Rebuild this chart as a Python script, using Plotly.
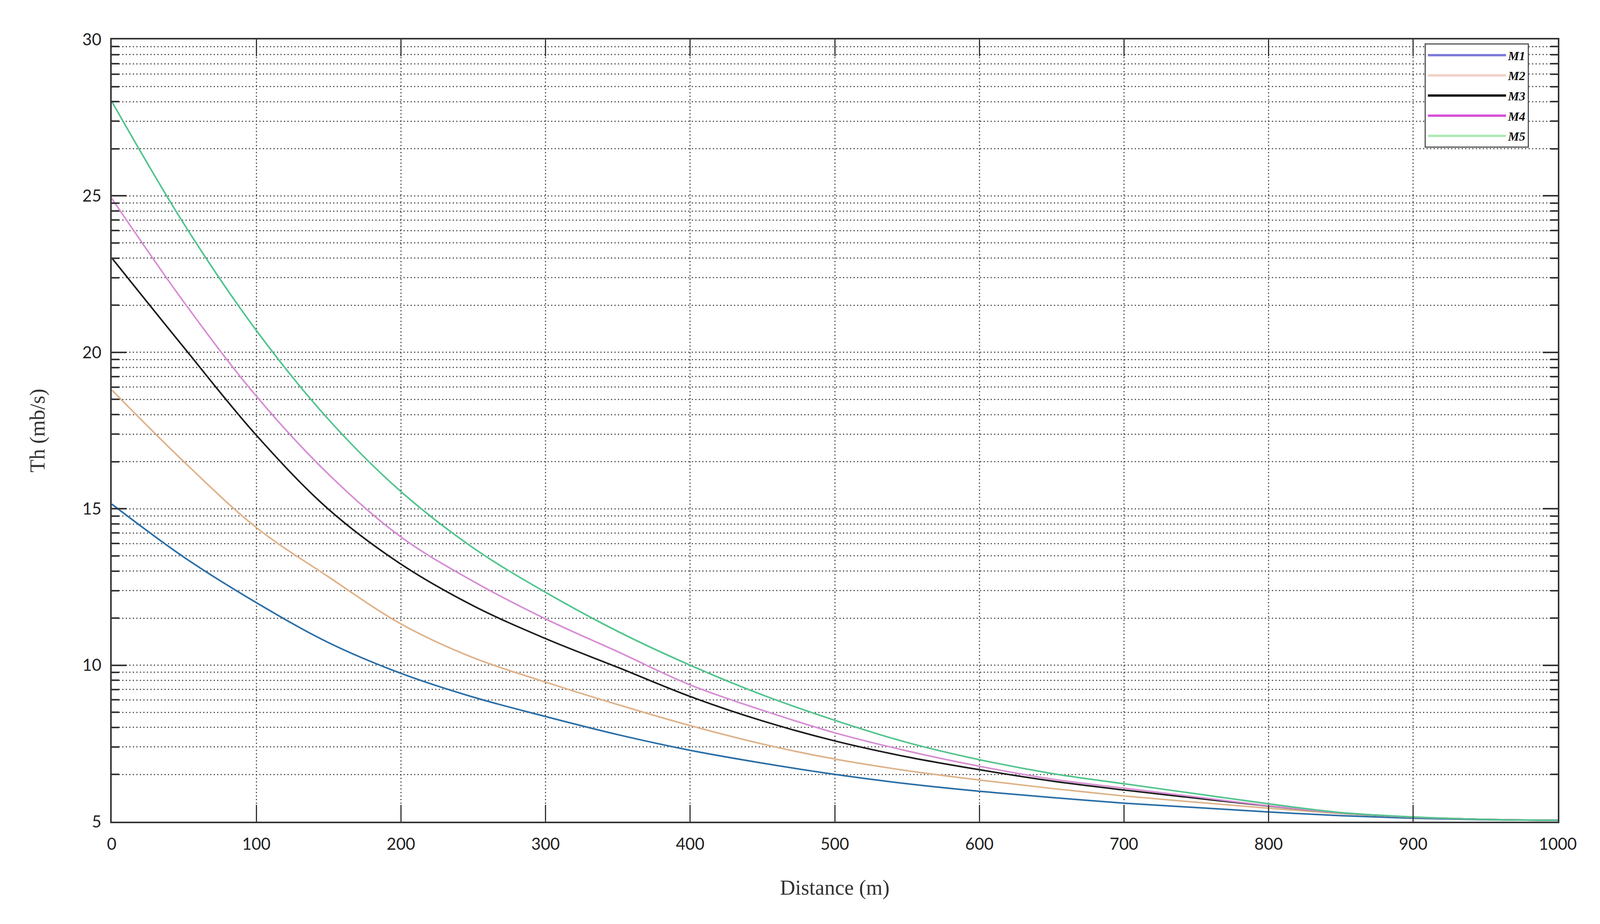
import numpy as np
import plotly.graph_objects as go

# distance (m)
distance = [0, 50, 100, 150, 200, 250, 300, 350, 400, 450, 500,
            550, 600, 650, 700, 750, 800, 850, 900, 950, 1000]

# throughput (mb/s)
m1 = [15.15, 13.45, 12.0, 10.72, 9.74, 8.98, 8.36, 7.78, 7.28, 6.87, 6.51,
      6.21, 5.97, 5.77, 5.59, 5.45, 5.31, 5.19, 5.11, 5.06, 5.04]
m2 = [18.8, 16.5, 14.4, 12.82, 11.32, 10.24, 9.46, 8.74, 8.07, 7.48, 7.0,
      6.63, 6.33, 6.06, 5.82, 5.62, 5.43, 5.26, 5.14, 5.07, 5.04]
m3 = [23.02, 20.15, 17.35, 14.98, 13.23, 11.9, 10.85, 9.93, 9.0, 8.22, 7.58,
      7.07, 6.66, 6.30, 6.01, 5.75, 5.50, 5.28, 5.14, 5.07, 5.04]
m4 = [24.92, 21.6, 18.6, 16.1, 14.1, 12.68, 11.48, 10.43, 9.37, 8.56, 7.84,
      7.26, 6.77, 6.36, 6.07, 5.79, 5.51, 5.28, 5.14, 5.07, 5.04]
m5 = [28.02, 24.1, 20.7, 17.85, 15.55, 13.75, 12.33, 11.08, 10.0, 9.05, 8.24,
      7.53, 6.98, 6.54, 6.21, 5.89, 5.57, 5.29, 5.15, 5.07, 5.04]

names = ['M1', 'M2', 'M3', 'M4', 'M5']
series = [m1, m2, m3, m4, m5]
line_colors = ['#2a6ea6', '#deb38a', '#1c1c1c', '#d78ed3', '#52c48e']
legend_colors = ['#7a7ad8', '#f2cfc6', '#111111', '#d94fd9', '#aeeab6']

y_ticks = [5, 10, 15, 20, 25, 30]
x_ticks = [0, 100, 200, 300, 400, 500, 600, 700, 800, 900, 1000]

# the original axis repeats a log-style minor grid inside every 5-unit step
minor_y = [a + 5 * np.log10(k) for a in y_ticks[:-1] for k in range(2, 10)]

fig = go.Figure()

for name, ys, col in zip(names, series, line_colors):
    fig.add_trace(go.Scatter(x=distance, y=ys, mode='lines', name=name,
                             line=dict(color=col, width=4, shape='spline', smoothing=1.0),
                             showlegend=False))

# legend entries use the colours shown in the original legend box
for name, col in zip(names, legend_colors):
    fig.add_trace(go.Scatter(x=[None], y=[None], mode='lines',
                             name='<b><i>' + name + '</i></b>', legendgroup=name,
                             line=dict(color=col, width=6)))

grid = dict(gridcolor='#505050', gridwidth=3, griddash='3px,6px')

fig.update_layout(
    margin=dict(l=278, r=100, t=93, b=254),
    paper_bgcolor='white', plot_bgcolor='white',
    font=dict(family='Lato', size=42, color='#222222'),
    legend=dict(x=0.908, y=0.995, xanchor='left', yanchor='top',
                bgcolor='white', bordercolor='#555555', borderwidth=3,
                font=dict(family='Liberation Serif', size=32, color='#111111'),
                itemwidth=200, tracegroupgap=7),
    xaxis=dict(range=[0, 1000], tickvals=x_ticks, showgrid=True, **grid,
               showline=True, linecolor='#333333', linewidth=4, mirror='ticks',
               ticks='inside', ticklen=43, tickwidth=3, tickcolor='#333333',
               zeroline=False, ticklabelstandoff=18,
               title=dict(text='Distance (m)', standoff=70,
                          font=dict(family='Liberation Serif', size=54, color='#333333'))),
    yaxis=dict(range=[5, 30], tickvals=y_ticks, showgrid=True, **grid,
               showline=True, linecolor='#333333', linewidth=4, mirror='ticks',
               ticks='inside', ticklen=38, tickwidth=4, tickcolor='#333333',
               zeroline=False, ticklabelstandoff=14,
               minor=dict(tickmode='array', tickvals=minor_y, ticks='inside',
                          ticklen=19, tickwidth=4, tickcolor='#333333',
                          showgrid=True, **grid),
               title=dict(text='Th (mb/s)', standoff=80,
                          font=dict(family='Liberation Serif', size=54, color='#333333'))),
)

fig.write_html("out.html")
